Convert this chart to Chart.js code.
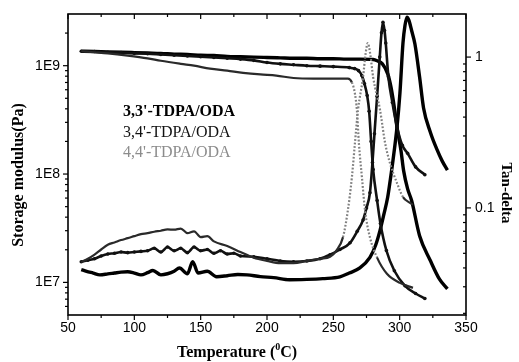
<!DOCTYPE html>
<html>
<head>
<meta charset="utf-8">
<script src="https://cdn.jsdelivr.net/npm/chart.js@4.4.1/dist/chart.umd.min.js"></script>
<style>
  html, body { margin: 0; padding: 0; background: #fff; }
  canvas { display: block; }
</style>
</head>
<body>
<canvas id="dma" width="519" height="362"></canvas>
<script>
// Sample names
const sampleNames = ["3,3'-TDPA/ODA", "3,4'-TDPA/ODA", "4,4'-TDPA/ODA"];

// Storage modulus (Pa) vs temperature (°C)
const modTemp33 = [60, 70, 80, 90, 100, 110, 120, 130, 140, 150, 160, 170, 180, 190, 200, 210, 220, 230, 240, 250, 260, 270, 280, 283, 287, 291, 293.5, 296, 298, 301, 303, 306, 309, 315, 323, 330, 336];
const mod33 = [1.36e9, 1.35e9, 1.34e9, 1.33e9, 1.32e9, 1.31e9, 1.30e9, 1.28e9, 1.27e9, 1.25e9, 1.24e9, 1.22e9, 1.21e9, 1.20e9, 1.19e9, 1.18e9, 1.17e9, 1.17e9, 1.16e9, 1.16e9, 1.15e9, 1.15e9, 1.14e9, 1.11e9, 1.04e9, 0.84e9, 0.63e9, 0.41e9, 0.27e9, 1.64e8, 1.07e8, 7.3e7, 5.7e7, 2.7e7, 1.6e7, 1.07e7, 8.7e6];

const modTemp34 = [60, 70, 80, 90, 100, 110, 120, 130, 140, 150, 160, 170, 180, 190, 200, 210, 220, 230, 240, 250, 262, 266, 269, 271.5, 273.5, 275.5, 277, 278.5, 280, 283, 285.5, 290, 296, 304, 312, 319];
const mod34 = [1.36e9, 1.35e9, 1.33e9, 1.32e9, 1.30e9, 1.29e9, 1.27e9, 1.25e9, 1.23e9, 1.21e9, 1.19e9, 1.17e9, 1.15e9, 1.12e9, 1.07e9, 1.04e9, 1.02e9, 1.0e9, 0.99e9, 0.98e9, 0.96e9, 0.94e9, 0.9e9, 0.81e9, 0.68e9, 0.53e9, 0.38e9, 0.2e9, 1.1e8, 5.7e7, 3.5e7, 1.97e7, 1.28e7, 9.3e6, 7.9e6, 7.1e6];

const modTemp44 = [60, 70, 80, 95, 110, 120, 135, 145, 157, 170, 182, 195, 207, 220, 235, 250, 261, 264, 266.3, 267.8, 269.3, 271.6, 273.9, 277.6, 282.9, 290.4, 300.2, 310];
const mod44 = [1.36e9, 1.33e9, 1.30e9, 1.24e9, 1.17e9, 1.11e9, 1.04e9, 1.0e9, 0.94e9, 0.9e9, 0.86e9, 0.83e9, 0.81e9, 0.77e9, 0.76e9, 0.76e9, 0.76e9, 0.70e9, 0.55e9, 0.384e9, 0.19e9, 9.2e7, 4.6e7, 2.6e7, 1.7e7, 1.2e7, 9.9e6, 8.9e6];

// Tan delta vs temperature (°C)
const tanTemp33 = [60, 64, 69, 74, 80, 85, 90, 95, 100, 105, 110, 114, 120, 125, 130, 134, 140, 144, 148, 155, 162, 170, 178, 185, 195, 205, 217, 230, 242, 255, 262, 270, 277.6, 282, 285.2, 288, 291, 293, 295, 298, 300.2, 302.5, 304, 305.5, 307, 309, 311.5, 315, 318, 323, 328, 332, 336];
const tan33 = [0.039, 0.038, 0.037, 0.036, 0.0365, 0.037, 0.0375, 0.0377, 0.037, 0.036, 0.0372, 0.0385, 0.036, 0.0366, 0.038, 0.040, 0.0366, 0.044, 0.037, 0.038, 0.035, 0.0355, 0.0362, 0.036, 0.035, 0.0345, 0.0334, 0.0336, 0.034, 0.0349, 0.037, 0.040, 0.047, 0.057, 0.071, 0.09, 0.118, 0.155, 0.208, 0.344, 0.577, 1.24, 1.62, 1.84, 1.75, 1.5, 1.22, 0.74, 0.46, 0.32, 0.245, 0.205, 0.178];

const tanTemp34 = [60, 65, 70, 75, 80, 85, 90, 95, 100, 105, 110, 115, 120, 125, 130, 135, 140, 145, 150, 155, 160, 165, 170, 175, 180, 190, 200, 210, 220, 230, 240, 247.5, 255, 262.6, 268, 272.4, 275, 277.6, 279.5, 281, 283, 285, 286.3, 287.4, 288.6, 289.5, 291.5, 294.5, 298, 302, 306, 312, 319];
const tan34 = [0.044, 0.045, 0.046, 0.048, 0.0495, 0.050, 0.051, 0.0505, 0.051, 0.0515, 0.052, 0.054, 0.051, 0.055, 0.052, 0.054, 0.0505, 0.055, 0.052, 0.053, 0.050, 0.052, 0.0495, 0.050, 0.048, 0.0475, 0.046, 0.0445, 0.044, 0.0445, 0.046, 0.0489, 0.053, 0.0587, 0.07, 0.083, 0.1, 0.126, 0.2, 0.31, 0.55, 1.0, 1.45, 1.70, 1.5, 1.24, 0.74, 0.5, 0.344, 0.26, 0.23, 0.187, 0.166];

const tanTemp44 = [60, 65, 70, 75, 80, 85, 90, 95, 100, 105, 110, 115, 120, 125, 130, 135, 140, 145, 150, 155, 160, 170, 180, 190, 200, 210, 220, 230, 240, 247.5, 252.7, 257.3, 261, 264, 266.3, 268.6, 272.4, 274.3, 276, 277.8, 280, 285.2, 289, 292.7, 298, 302.5, 307.8, 310];
const tan44 = [0.0437, 0.046, 0.049, 0.053, 0.057, 0.059, 0.0612, 0.063, 0.065, 0.067, 0.068, 0.0695, 0.0706, 0.072, 0.0717, 0.073, 0.068, 0.070, 0.064, 0.065, 0.060, 0.0559, 0.051, 0.0467, 0.0445, 0.043, 0.043, 0.0445, 0.046, 0.0474, 0.0527, 0.064, 0.097, 0.16, 0.27, 0.446, 0.737, 1.05, 1.24, 1.05, 0.737, 0.446, 0.27, 0.198, 0.146, 0.118, 0.108, 0.105];

// Axis ticks
const tempTicks = [50, 100, 150, 200, 250, 300, 350];
const tempMinorTicks = [75, 125, 175, 225, 275, 325];
const modulusTicks = [1e7, 1e8, 1e9];
const modulusMinorTicks = [6e6, 7e6, 8e6, 9e6, 2e7, 3e7, 4e7, 5e7, 6e7, 7e7, 8e7, 9e7, 2e8, 3e8, 4e8, 5e8, 6e8, 7e8, 8e8, 9e8, 2e9];
const modulusLabels = ['1E7', '1E8', '1E9'];
const tanTicks = [0.1, 1];
const tanMinorTicks = [0.02, 0.03, 0.04, 0.05, 0.06, 0.07, 0.08, 0.09, 0.2, 0.3, 0.4, 0.5, 0.6, 0.7, 0.8, 0.9];
const tanLabels = ['0.1', '1'];

const pairs = (xs, ys) => xs.map((x, i) => ({ x: x, y: ys[i] }));

// steep stretches of the densely sampled traces break up into visible dots
const steep = c => Math.abs(c.p1.y - c.p0.y) > 2.2 * Math.abs(c.p1.x - c.p0.x);

const styles = [
  { borderColor: '#000', borderWidth: 3.4, pointRadius: 0 },
  { borderColor: '#111', borderWidth: 2.6, pointRadius: 1.8, pointBackgroundColor: '#111', pointBorderWidth: 0 },
  { borderColor: '#333', borderWidth: 2.2, pointRadius: 0,
    segment: {
      borderColor: c => steep(c) ? '#808080' : '#2a2a2a',
      borderDash: c => steep(c) ? [1.8, 1.8] : []
    } }
];

const mk = (data, axis, st) => Object.assign({
  data: data, yAxisID: axis, showLine: true, fill: false,
  cubicInterpolationMode: 'monotone', pointHoverRadius: 0
}, st);

const datasets = [
  mk(pairs(modTemp44, mod44), 'y', styles[2]),
  mk(pairs(tanTemp44, tan44), 'y2', styles[2]),
  mk(pairs(modTemp34, mod34), 'y', styles[1]),
  mk(pairs(tanTemp34, tan34), 'y2', styles[1]),
  mk(pairs(modTemp33, mod33), 'y', styles[0]),
  mk(pairs(tanTemp33, tan33), 'y2', styles[0])
];

// Frame, tick marks, axis titles and sample labels
const decorations = {
  id: 'decorations',
  afterDraw(chart) {
    const { ctx, chartArea: a, scales } = chart;
    const sx = scales.x, sl = scales.y, sr = scales.y2;
    ctx.save();
    ctx.strokeStyle = '#000';
    ctx.lineWidth = 1.6;
    ctx.strokeRect(a.left, a.top, a.right - a.left, a.bottom - a.top);
    ctx.lineWidth = 1.2;
    const seg = (x1, y1, x2, y2) => { ctx.beginPath(); ctx.moveTo(x1, y1); ctx.lineTo(x2, y2); ctx.stroke(); };
    tempTicks.forEach(v => { const p = sx.getPixelForValue(v); seg(p, a.bottom, p, a.bottom + 5); seg(p, a.top, p, a.top + 5); });
    tempMinorTicks.forEach(v => { const p = sx.getPixelForValue(v); seg(p, a.bottom, p, a.bottom + 3); seg(p, a.top, p, a.top + 3); });
    modulusTicks.forEach(v => { const p = sl.getPixelForValue(v); seg(a.left - 5, p, a.left, p); });
    modulusMinorTicks.forEach(v => { const p = sl.getPixelForValue(v); seg(a.left - 3, p, a.left, p); });
    tanTicks.forEach(v => { const p = sr.getPixelForValue(v); seg(a.right, p, a.right + 5, p); });
    tanMinorTicks.forEach(v => { const p = sr.getPixelForValue(v); seg(a.right - 3, p, a.right, p); });

    // axis titles
    const serifBold = px => 'bold ' + px + 'px "Liberation Serif", "Times New Roman", serif';
    ctx.fillStyle = '#000';
    ctx.font = serifBold(16);
    ctx.textBaseline = 'middle';
    ctx.textAlign = 'center';
    ctx.save();
    ctx.translate(19, 175);
    ctx.rotate(-Math.PI / 2);
    ctx.fillText('Storage modulus(Pa)', 0, 0);
    ctx.restore();

    ctx.save();
    ctx.translate(506, 193);
    ctx.rotate(Math.PI / 2);
    ctx.font = serifBold(15);
    ctx.fillText('Tan-delta', 0, 0);
    ctx.restore();

    ctx.textAlign = 'left';
    ctx.textBaseline = 'alphabetic';
    ctx.font = serifBold(16);
    let tx = 177;
    const ty = 357;
    const part1 = 'Temperature (';
    ctx.fillText(part1, tx, ty);
    tx += ctx.measureText(part1).width;
    ctx.font = serifBold(10);
    ctx.fillText('0', tx, ty - 7);
    tx += ctx.measureText('0').width;
    ctx.font = serifBold(16);
    ctx.fillText('C)', tx, ty);

    // sample labels
    const labelStyles = [
      { font: serifBold(16), color: '#000' },
      { font: '16px "Liberation Serif", "Times New Roman", serif', color: '#111' },
      { font: '16px "Liberation Serif", "Times New Roman", serif', color: '#8c8c8c' }
    ];
    const baselines = [116, 137, 157];
    sampleNames.forEach((name, i) => {
      ctx.font = labelStyles[i].font;
      ctx.fillStyle = labelStyles[i].color;
      ctx.fillText(name, 123, baselines[i]);
    });
    ctx.restore();
  }
};

// vertical axes: fixed width, no extra room reserved above/below for labels
const fitVertical = w => s => { s.width = w; s.paddingTop = 0; s.paddingBottom = 0; };

new Chart(document.getElementById('dma'), {
  type: 'scatter',
  data: { datasets: datasets },
  options: {
    responsive: false,
    animation: false,
    events: [],
    layout: { padding: { top: 14, left: 0, right: 0, bottom: 0 } },
    plugins: { legend: { display: false }, tooltip: { enabled: false } },
    scales: {
      x: {
        type: 'linear', position: 'bottom', min: 50, max: 350,
        afterBuildTicks: s => { s.ticks = tempTicks.map(v => ({ value: v })); },
        afterFit: s => { s.height = 47; },
        ticks: { color: '#000', padding: 5, maxRotation: 0, autoSkip: false,
                 font: { family: '"Liberation Sans", Arial, sans-serif', size: 14 } },
        grid: { display: false, drawTicks: false },
        border: { display: false }
      },
      y: {
        type: 'logarithmic', position: 'left', min: 5e6, max: 3e9,
        afterBuildTicks: s => { s.ticks = modulusTicks.map(v => ({ value: v })); },
        afterFit: fitVertical(68),
        ticks: { color: '#000', padding: 8, autoSkip: false,
                 callback: v => modulusLabels[modulusTicks.indexOf(v)],
                 font: { family: '"Liberation Sans", Arial, sans-serif', size: 14 } },
        grid: { display: false, drawTicks: false },
        border: { display: false }
      },
      y2: {
        type: 'logarithmic', position: 'right', min: 0.0195, max: 1.93,
        afterBuildTicks: s => { s.ticks = tanTicks.map(v => ({ value: v })); },
        afterFit: fitVertical(53),
        ticks: { color: '#000', padding: 9, autoSkip: false,
                 callback: v => tanLabels[tanTicks.indexOf(v)],
                 font: { family: '"Liberation Sans", Arial, sans-serif', size: 14 } },
        grid: { display: false, drawTicks: false },
        border: { display: false }
      }
    }
  },
  plugins: [decorations]
});
</script>
</body>
</html>
